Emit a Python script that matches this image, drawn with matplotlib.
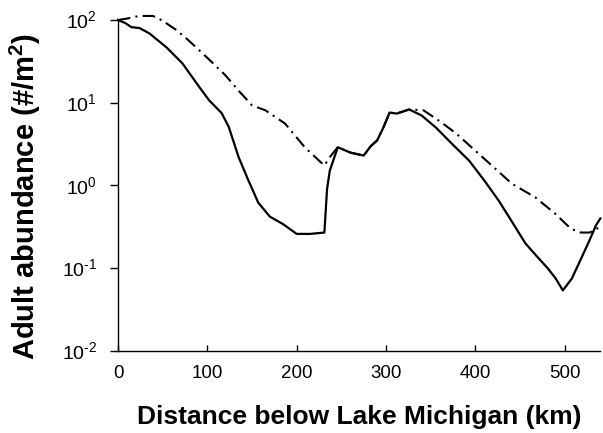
import matplotlib
matplotlib.use("Agg")
import matplotlib.pyplot as plt
from matplotlib.ticker import NullLocator, FixedLocator

plt.rcParams['font.family'] = ['Liberation Sans', 'DejaVu Sans']
plt.rcParams['mathtext.fontset'] = 'custom'
plt.rcParams['mathtext.rm'] = 'Liberation Sans'
plt.rcParams['mathtext.bf'] = 'Liberation Sans:bold'

# Solid line (distance km, abundance #/m2)
solid_x = [0, 8, 15, 24, 35, 54, 72, 91, 102, 116, 124, 135, 146, 157, 170, 185, 200, 215, 231, 234,
           237, 246, 260, 275, 283, 290, 297, 304, 312, 326, 340, 356, 375, 393, 410, 426, 440, 456,
           470, 481, 490, 498, 508, 519, 528, 535, 540]
solid_y = [100, 92, 82, 80, 69, 47, 30, 15.5, 10.7, 7.5, 5.1, 2.2, 1.15, 0.62, 0.42, 0.34, 0.26, 0.26, 0.27, 0.9,
           1.5, 2.9, 2.5, 2.3, 3.0, 3.5, 5.0, 7.6, 7.4, 8.3, 7.0, 5.0, 3.1, 2.0, 1.15, 0.66, 0.38, 0.2,
           0.135, 0.10, 0.075, 0.054, 0.075, 0.135, 0.22, 0.33, 0.40]

# Dash-dot line
dash_x = [0, 10, 20, 28, 39, 50, 65, 78, 91, 105, 120, 135, 150, 165, 187, 209, 231,
          237, 246, 260, 275, 283, 290, 297, 304, 312, 326, 342, 360, 378, 408, 441, 467, 489, 507, 518, 528, 536, 540]
dash_y = [100, 104, 110, 112, 112, 98, 76, 58, 43, 31, 21.6, 14, 9.3, 8.1, 5.6, 2.9, 1.74,
          2.2, 2.9, 2.5, 2.3, 3.0, 3.5, 5.0, 7.6, 7.4, 8.3, 8.1, 6.0, 4.3, 2.2, 1.05, 0.72, 0.46, 0.30, 0.27, 0.27, 0.30, 0.33]

x_ticks = [0, 100, 200, 300, 400, 500]
y_ticks = [1e-2, 1e-1, 1e0, 1e1, 1e2]
y_ticklabels = ['10$^{\\text{-2}}$', '10$^{\\text{-1}}$', '10$^{\\text{0}}$', '10$^{\\text{1}}$', '10$^{\\text{2}}$']

fig = plt.figure(figsize=(6.03, 4.33), dpi=100)
ax = fig.add_axes([0.1957, 0.1894, 0.80, 0.7644])

ax.plot(solid_x, solid_y, color='black', lw=1.6, solid_joinstyle='round', clip_on=False)
ax.plot(dash_x, dash_y, color='black', lw=1.5, dashes=(6, 2.5, 1, 2.5), clip_on=False)

ax.set_yscale('log')
ax.set_ylim(1e-2, 1e2)
ax.set_xlim(0, 540)
ax.yaxis.set_major_locator(FixedLocator(y_ticks))
ax.yaxis.set_minor_locator(NullLocator())
ax.set_yticklabels(y_ticklabels)
ax.xaxis.set_major_locator(FixedLocator(x_ticks))

for s in ['top', 'right']:
    ax.spines[s].set_visible(False)
for s in ['left', 'bottom']:
    ax.spines[s].set_linewidth(1.0)

ax.tick_params(axis='y', direction='out', length=6, width=1, labelsize=14, pad=9)
ax.tick_params(axis='x', direction='in', length=4, width=1, labelsize=13.5, pad=10)

ax.set_xlabel('Distance below Lake Michigan (km)', fontsize=19, fontweight='bold', labelpad=17)
ax.set_ylabel('Adult abundance (#/m$^{\\mathbf{2}}$)', fontsize=21, fontweight='bold')
ax.yaxis.set_label_coords(-0.155, 0.468)

fig.savefig('out.png', dpi=100)
